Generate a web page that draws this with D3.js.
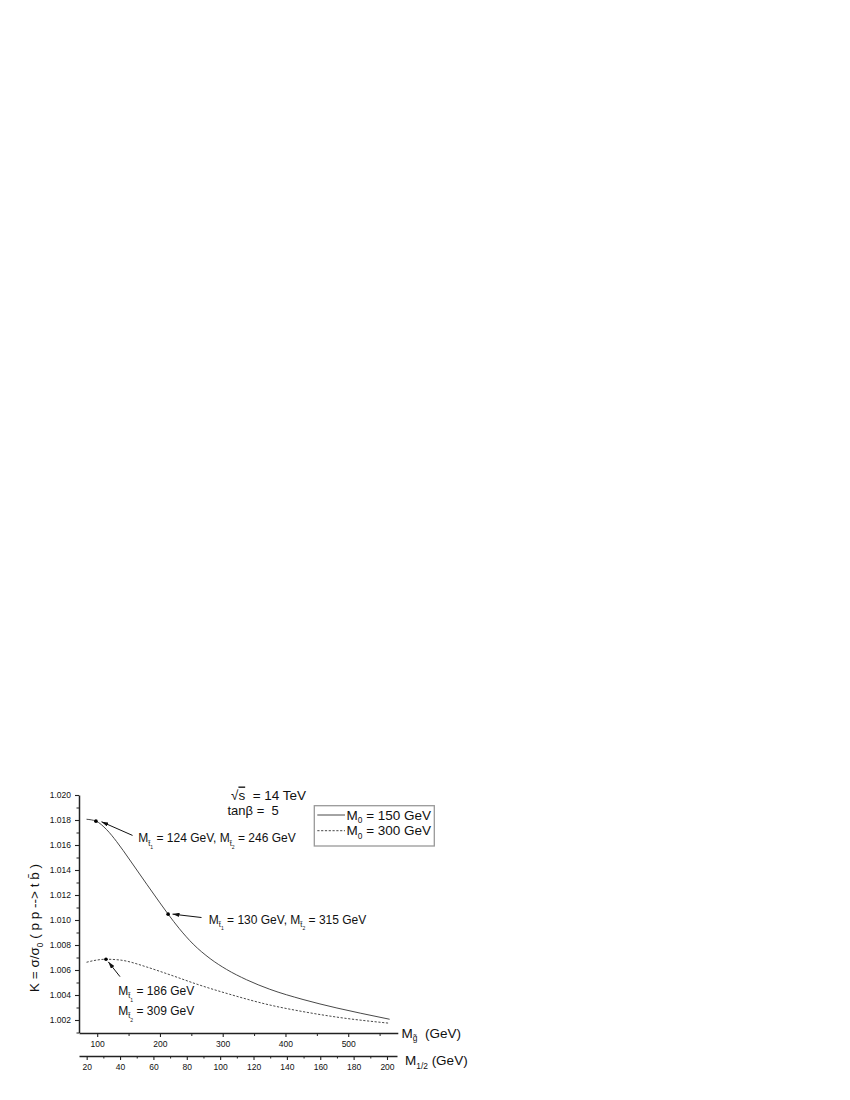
<!DOCTYPE html>
<html>
<head>
<meta charset="utf-8">
<script src="https://cdn.jsdelivr.net/npm/d3@7"></script>
<style>
  html, body { margin: 0; padding: 0; background: #fff; }
  svg { display: block; }
  text { font-family: "Liberation Sans", Arial, sans-serif; fill: #111; }
</style>
</head>
<body>
<svg id="chart" width="850" height="1100"></svg>
<script>
// ---------------- data ----------------
// gluino mass M_g (GeV) and K factor
const solidMg = [83, 98, 115, 131, 152, 179, 200, 213, 231, 253, 280, 306, 338, 375, 428, 482, 520, 566];
const solidK  = [1.01806, 1.01791, 1.01723, 1.01627, 1.01480, 1.01286, 1.01137, 1.01047, 1.00930, 1.00807,
                 1.00691, 1.00605, 1.00522, 1.00446, 1.00364, 1.00296, 1.00254, 1.00206];
const dashMg  = [83, 100, 114, 136, 179, 200, 221, 258, 311, 375, 428, 482, 566];
const dashK   = [1.00662, 1.00680, 1.00686, 1.00680, 1.00624, 1.00589, 1.00553, 1.00488, 1.00406,
                 1.00320, 1.00267, 1.00223, 1.00174];
// annotated points
const markMg = [98, 213, 114];
const markK  = [1.01791, 1.01047, 1.00686];

const yTicks  = [1.002, 1.004, 1.006, 1.008, 1.010, 1.012, 1.014, 1.016, 1.018, 1.020];
const yMinor  = [1.001, 1.003, 1.005, 1.007, 1.009, 1.011, 1.013, 1.015, 1.017, 1.019];
const xTicks  = [100, 200, 300, 400, 500];
const xMinor  = [150, 250, 350, 450, 550];
const x2Ticks = [20, 40, 60, 80, 100, 120, 140, 160, 180, 200];
const x2Minor = [30, 50, 70, 90, 110, 130, 150, 170, 190];

const legendLabels = ["150", "300"];

// ---------------- scales ----------------
const svg = d3.select("#chart");
const x  = d3.scaleLinear().domain([71, 579]).range([79, 397.8]);
const x2 = d3.scaleLinear().domain([15.4, 206]).range([79, 397]);
const y  = d3.scaleLinear().domain([1.001, 1.020]).range([1032.5, 795]);

const axisColor = "#222";
function styleAxis(g, fs) {
  g.select(".domain").attr("stroke", axisColor).attr("stroke-width", 1.5);
  g.selectAll(".tick line").attr("stroke", axisColor).attr("stroke-width", 1.1);
  g.selectAll(".tick text").style("font-size", fs + "px")
    .style("font-family", "'Liberation Sans', Arial, sans-serif").attr("fill", "#111");
}

// left axis
const gy = svg.append("g").attr("transform", "translate(79,0)")
  .call(d3.axisLeft(y).tickValues(yTicks).tickFormat(d3.format(".3f")).tickSize(4).tickSizeOuter(0).tickPadding(4));
styleAxis(gy, 8.5);
const gyMinor = svg.append("g").attr("transform", "translate(79,0)")
  .call(d3.axisLeft(y).tickValues(yMinor).tickFormat("").tickSize(2.5).tickSizeOuter(0));
gyMinor.select(".domain").remove();
gyMinor.selectAll(".tick line").attr("stroke", axisColor).attr("stroke-width", 1);

// bottom axis (M_g)
const gx = svg.append("g").attr("transform", "translate(0,1033)")
  .call(d3.axisBottom(x).tickValues(xTicks).tickSize(4).tickSizeOuter(0).tickPadding(4));
styleAxis(gx, 8.5);
const gxMinor = svg.append("g").attr("transform", "translate(0,1033)")
  .call(d3.axisBottom(x).tickValues(xMinor).tickFormat("").tickSize(3).tickSizeOuter(0));
gxMinor.select(".domain").remove();
gxMinor.selectAll(".tick line").attr("stroke", axisColor).attr("stroke-width", 1);

// second bottom axis (M_1/2)
const gx2 = svg.append("g").attr("transform", "translate(0,1056)")
  .call(d3.axisBottom(x2).tickValues(x2Ticks).tickSize(4).tickSizeOuter(0).tickPadding(4));
styleAxis(gx2, 8.5);
const gx2Minor = svg.append("g").attr("transform", "translate(0,1056)")
  .call(d3.axisBottom(x2).tickValues(x2Minor).tickFormat("").tickSize(2.5).tickSizeOuter(0));
gx2Minor.select(".domain").remove();
gx2Minor.selectAll(".tick line").attr("stroke", axisColor).attr("stroke-width", 1);

// ---------------- rich text helper ----------------
// parts: [text, level]; level 0 normal, 1 subscript, 2 sub-subscript
function rich(parent, px, py, parts, size, attrs) {
  const t = parent.append("text").attr("x", px).attr("y", py).style("font-size", size + "px");
  if (attrs) Object.entries(attrs).forEach(([k, v]) => t.attr(k, v));
  const sizes  = [size, size * 0.62, size * 0.42];
  const shifts = [0, size * 0.28, size * 0.55];
  let cur = 0;
  parts.forEach(([txt, lvl]) => {
    t.append("tspan").text(txt).style("font-size", sizes[lvl] + "px")
      .attr("dy", shifts[lvl] - cur);
    cur = shifts[lvl];
  });
  return t;
}

// ---------------- curves ----------------
const solidData = solidMg.map((d, i) => [d, solidK[i]]);
const dashData  = dashMg.map((d, i) => [d, dashK[i]]);
const line = d3.line().x(d => x(d[0])).y(d => y(d[1])).curve(d3.curveMonotoneX);

svg.append("path").datum(solidData).attr("d", line)
  .attr("fill", "none").attr("stroke", "#333").attr("stroke-width", 0.9);
svg.append("path").datum(dashData).attr("d", line)
  .attr("fill", "none").attr("stroke", "#333").attr("stroke-width", 0.9)
  .attr("stroke-dasharray", "2.2,1.6");

// ---------------- annotations ----------------
svg.append("defs").append("marker")
  .attr("id", "arr").attr("viewBox", "0 0 10 6").attr("refX", 10).attr("refY", 3)
  .attr("markerWidth", 7).attr("markerHeight", 4.2).attr("markerUnits", "userSpaceOnUse")
  .attr("orient", "auto")
  .append("path").attr("d", "M0,0 L10,3 L0,6 Z").attr("fill", "#111");

const marks = markMg.map((d, i) => [x(d), y(markK[i])]);
svg.selectAll("circle.mark").data(marks).enter().append("circle")
  .attr("class", "mark").attr("cx", d => d[0]).attr("cy", d => d[1]).attr("r", 1.8).attr("fill", "#000");

// arrows: start offset and tip offset relative to marked point
const arrowFrom = [[36.6, 14.3], [33.4, 3.4], [14, 17.4]];
const arrowTip  = [[5.5, 0.6], [4.4, 0], [2.3, 2.6]];
marks.forEach((m, i) => {
  svg.append("line")
    .attr("x1", m[0] + arrowFrom[i][0]).attr("y1", m[1] + arrowFrom[i][1])
    .attr("x2", m[0] + arrowTip[i][0]).attr("y2", m[1] + arrowTip[i][1])
    .attr("stroke", "#111").attr("stroke-width", 1).attr("marker-end", "url(#arr)");
});

const tt = "t\u0303";
rich(svg, marks[0][0] + 42.3, marks[0][1] + 21.3,
  [["M", 0], [tt, 1], ["1", 2], [" = 124 GeV, M", 0], [tt, 1], ["2", 2], [" = 246 GeV", 0]], 12);
rich(svg, marks[1][0] + 40.7, marks[1][1] + 9.7,
  [["M", 0], [tt, 1], ["1", 2], [" = 130 GeV, M", 0], [tt, 1], ["2", 2], [" = 315 GeV", 0]], 12);
rich(svg, marks[2][0] + 12.3, marks[2][1] + 35.7,
  [["M", 0], [tt, 1], ["1", 2], [" = 186 GeV", 0]], 12);
rich(svg, marks[2][0] + 12.3, marks[2][1] + 55.7,
  [["M", 0], [tt, 1], ["2", 2], [" = 309 GeV", 0]], 12);

// header
const h = svg.append("text").attr("x", 231).attr("y", 799.5).style("font-size", "13.5px");
h.append("tspan").text("\u221A");
h.append("tspan").text("s").style("text-decoration", "overline");
h.append("tspan").text("  = 14 TeV").attr("xml:space", "preserve");
svg.append("text").attr("x", 227.5).attr("y", 815).style("font-size", "13px")
  .attr("xml:space", "preserve").text("tan\u03B2 =  5");

// legend
const lg = svg.append("g");
lg.append("rect").attr("x", 314.3).attr("y", 805.7).attr("width", 120).attr("height", 40.3)
  .attr("fill", "#fff").attr("stroke", "#999").attr("stroke-width", 1.3);
legendLabels.forEach((lab, i) => {
  const yy = 815 + i * 15.7;
  lg.append("line").attr("x1", 317.3).attr("x2", 345).attr("y1", yy).attr("y2", yy)
    .attr("stroke", "#333").attr("stroke-width", 0.9)
    .attr("stroke-dasharray", i === 1 ? "2.2,1.6" : null);
  rich(lg, 346.5, yy + 4.5, [["M", 0], ["0", 1], [" = " + lab + " GeV", 0]], 13.5);
});

// axis titles
rich(svg, 39, 928, [["K = \u03C3/\u03C3", 0], ["0", 1], [" ( p p --> t b\u0304 )", 0]], 13.5,
  {"transform": "rotate(-90,39,928)", "text-anchor": "middle"});
rich(svg, 401.5, 1037.5, [["M", 0], ["g\u0303", 1], ["  (GeV)", 0]], 13.5, {"xml:space": "preserve"});
rich(svg, 405, 1065, [["M", 0], ["1/2", 1], [" (GeV)", 0]], 13.5);
</script>
</body>
</html>
